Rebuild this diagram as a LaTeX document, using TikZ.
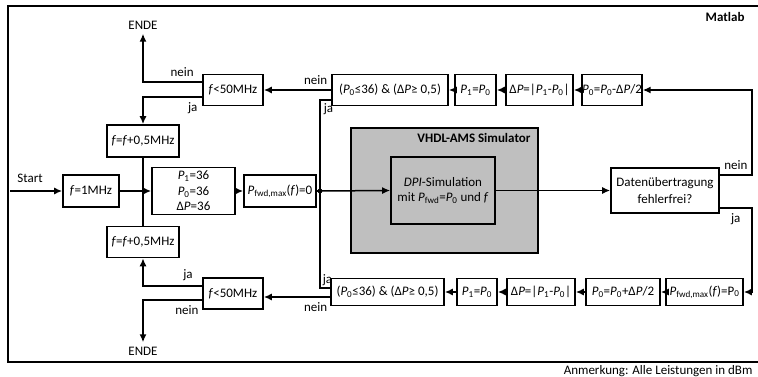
\documentclass[tikz,border=0pt]{standalone}
\usepackage{fontspec}
\setmainfont{Carlito}
\usetikzlibrary{arrows.meta}

\tikzset{
  line/.style={line width=1.5pt},
  arr/.style={line width=1.5pt, -{Latex[length=8pt,width=7pt]}},
  box/.style={draw, line width=1.6pt, fill=white, inner sep=0pt, align=center},
  simbox/.style={box, fill=gray!50},
}
\newcommand{\Pk}[1]{\textit{P}\textsubscript{#1}}
\newcommand{\Pf}{\Pk{fwd,max}(\textit{f})}

\begin{document}
\fontsize{13}{15.6}\selectfont
\begin{tikzpicture}[x=1pt, y=-1pt]
        \useasboundingbox (0,0) rectangle (758,377);

        % Rahmen (Matlab)
        \draw[line, line width=1.8pt] (764,6) -- (8,6) -- (8,362) -- (764,362);
        \node[anchor=base east] (matlab) at (749,22) {\textbf{Matlab}};
        \node[anchor=base east] (anm) at (757,374) {Anmerkung: Alle Leistungen in dBm};

        % Frequenzschleife (links)
        \coordinate (start) at (10,191);
        \node (startlbl) at (30,178) {Start};
        \node[box, minimum width=56, minimum height=32] (f1) at (91,191) {\textit{f}=1MHz};
        \node[box, minimum width=83, minimum height=47] (init) at (193.5,191) {\Pk{1}=36\\\Pk{0}=36\\Δ\textit{P}=36};
        \node[box, minimum width=72, minimum height=32] (pnull) at (280,191) {\Pf=0};
        \node[box, minimum width=72, minimum height=32] (finc1) at (143,141) {\textit{f}=\textit{f}+0,5MHz};
        \node[box, minimum width=72, minimum height=31] (finc2) at (143,242) {\textit{f}=\textit{f}+0,5MHz};
        \node[box, minimum width=60, minimum height=31] (ftop) at (233,90) {\textit{f}<50MHz};
        \node[box, minimum width=60, minimum height=31] (fbot) at (233,293.5) {\textit{f}<50MHz};
        \node (ende1) at (143,25) {ENDE};
        \node (ende2) at (143,351) {ENDE};

        % Simulator
        \node[simbox, minimum width=187, minimum height=125] (sim) at (444.5,190.5) {};
        \node[anchor=base east] (simlbl) at (535,143) {\textbf{VHDL-AMS Simulator}};
        \node[simbox, minimum width=104, minimum height=67] (dpi) at (443,190.5) {\textit{DPI}-Simulation\\mit \Pk{fwd}=\Pk{0} und \textit{f}};
        \node[box, minimum width=108, minimum height=45] (daten) at (665,190.5) {Datenübertragung\\[2pt]fehlerfrei?};

        % obere Kette (nein)
        \node[box, minimum width=116, minimum height=31] (bedo) at (390,90) {(\Pk{0}≤36) \& (Δ\textit{P}≥ 0,5)};
        \node[box, minimum width=41, minimum height=31] (p1o) at (475.5,90) {\Pk{1}=\Pk{0}};
        \node[box, minimum width=67, minimum height=31] (dpo) at (539.5,90) {Δ\textit{P}=|\Pk{1}-\Pk{0}|};
        \node[box, minimum width=56, minimum height=31] (p0o) at (612,90) {\Pk{0}=\Pk{0}-Δ\textit{P}/2};

        % untere Kette (ja)
        \node[box, minimum width=113, minimum height=27] (bedu) at (387.5,292) {(\Pk{0}≤36) \& (Δ\textit{P}≥ 0,5)};
        \node[box, minimum width=40, minimum height=27] (p1u) at (477,292) {\Pk{1}=\Pk{0}};
        \node[box, minimum width=68, minimum height=27] (dpu) at (541,292) {Δ\textit{P}=|\Pk{1}-\Pk{0}|};
        \node[box, minimum width=74, minimum height=27] (p0u) at (623,292) {\Pk{0}=\Pk{0}+Δ\textit{P}/2};
        \node[box, minimum width=77, minimum height=27] (pmax) at (704.5,292) {\Pf=P\textsubscript{0}};

        % Verbindungen links
        \draw[arr] (start) -- (f1.west);
        \draw[arr] (f1) -- (init);
        \draw[line] (finc1) -- (finc2);
        \draw[arr] (init) -- (pnull);
        \draw[arr] ([yshift=8pt]ftop.west) -| node[pos=0.17, above] {nein} (ende1);
        \draw[arr] ([yshift=-7pt]ftop.west) -| node[pos=0.08, below] {ja} (finc1);
        \draw[arr] ([yshift=7.5pt]fbot.west) -| node[pos=0.12, above] {ja} (finc2);
        \draw[arr] ([yshift=-6.5pt]fbot.west) -| node[pos=0.13, below] {nein} (ende2);

        % Knoten und Simulation
        \coordinate (jn) at (320,191);
        \draw[line] (pnull) -- (jn);
        \fill (jn) circle (2.4);
        \draw[arr] (jn) -- (dpi.west);
        \draw[arr] (dpi) -- (daten);

        % Rueckfuehrung rechts
        \draw[arr] ([yshift=15.5pt]daten.east) -- node[above] {nein} ++(32,0) |- (p0o);
        \draw[arr] ([yshift=-17.5pt]daten.east) -- node[below] {ja} ++(32,0) |- (pmax);

        % Ketten
        \draw[arr] (p0o) -- (dpo);
        \draw[arr] (dpo) -- (p1o);
        \draw[arr] (p1o) -- (bedo);
        \draw[arr] (pmax) -- (p0u);
        \draw[arr] (p0u) -- (dpu);
        \draw[arr] (dpu) -- (p1u);
        \draw[arr] (p1u) -- (bedu);

        % Bedingungen -> Frequenz / Knoten
        \draw[arr] (bedo) -- node[pos=0.23, above] {nein} (ftop);
        \draw[line] ([yshift=-10pt]bedo.west) -| node[pos=0.5, below right, inner sep=3pt] {ja} (jn);
        \draw[line] (jn) |- node[pos=0.5, above right, inner sep=2pt] {ja} ([yshift=4pt]bedu.west);
        \coordinate (neinu) at ([yshift=-5pt]bedu.west);
        \draw[arr] (neinu) -- node[pos=0.22, below] {nein} (neinu -| fbot.east);
\end{tikzpicture}
\end{document}
